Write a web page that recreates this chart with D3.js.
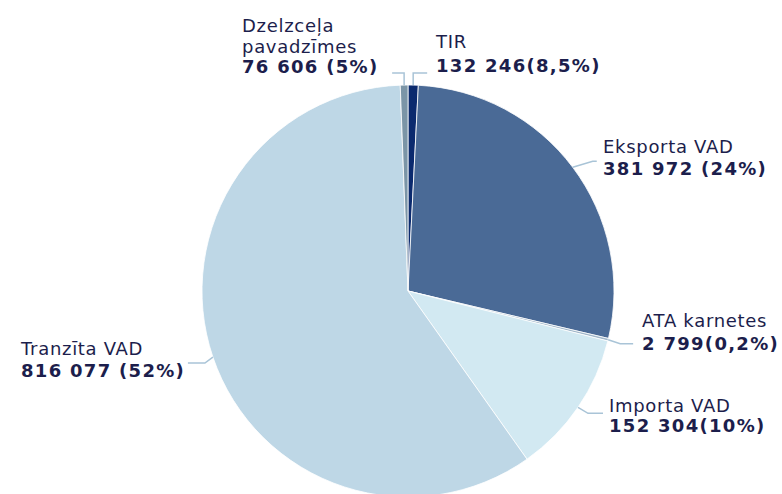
<!DOCTYPE html>
<html>
<head>
<meta charset="utf-8">
<script src="https://cdn.jsdelivr.net/npm/d3@7"></script>
<style>
  body { margin: 0; background: #fff; }
  svg { display: block; }
  .lbl { font-family: "DejaVu Sans", Verdana, sans-serif; font-size: 18px; fill: #1c1e4c; letter-spacing: 0.7px; }
  .lbl .val { font-weight: bold; letter-spacing: 1.3px; }
  .leader { fill: none; stroke: #a9c4d7; stroke-width: 1.5; }
</style>
</head>
<body>
<div id="chart"></div>
<script>
// slice order, clockwise from 12 o'clock
const categories = ["TIR", "Eksporta VAD", "ATA karnetes", "Importa VAD", "Tranzīta VAD", "Dzelzceļa pavadzīmes"]
// share of the circle each slice takes in the picture (%)
const shares = [0.8, 27.9, 0.2, 11.3, 59.2, 0.6]
// value text printed in each label
const valueLabels = ["132 246(8,5%)", "381 972 (24%)", "2 799(0,2%)", "152 304(10%)", "816 077 (52%)", "76 606 (5%)"]
// name text, split over lines
const nameLines = [["TIR"], ["Eksporta VAD"], ["ATA karnetes"], ["Importa VAD"], ["Tranzīta VAD"], ["Dzelzceļa", "pavadzīmes"]]
const colors = ["#0b2a6e", "#4a6a96", "#9fb6c9", "#d2e9f2", "#bed7e6", "#7b95a7"]

const width = 782
const height = 494
const cx = 408
const cy = 291
const radius = 206

// label layout: text anchor point, line spacing, elbow and end of the leader
const layout = [
  { x: 436, y: 48, dy: 24, elbow: [0, -12], end: [14, -12] },
  { x: 603, y: 153, dy: 22, elbow: [20, -6], end: [24, -6] },
  { x: 642, y: 327, dy: 23, elbow: [12, 4], end: [25, 4] },
  { x: 609, y: 412, dy: 20, elbow: [10, 6], end: [25, 6] },
  { x: 21, y: 355, dy: 22, elbow: [-8, 6], end: [-25, 6] },
  { x: 242, y: 32, dy: 20.5, elbow: [0, -12], end: [-12, -12] }
]

const data = categories.map((c, i) => ({ name: c, share: shares[i], i }))

const pie = d3.pie()
  .value(d => d.share)
  .sort(null)

const arc = d3.arc()
  .innerRadius(0)
  .outerRadius(radius)

const svg = d3.select("#chart").append("svg")
  .attr("width", width)
  .attr("height", height)

const g = svg.append("g")
  .attr("transform", "translate(" + cx + "," + cy + ")")

const arcs = pie(data)

g.selectAll("path.slice")
  .data(arcs)
  .join("path")
  .attr("class", "slice")
  .attr("d", arc)
  .attr("fill", d => colors[d.data.i])
  .attr("stroke", "#fff")
  .attr("stroke-width", 0.8)

// leader lines from the rim at each slice's mid angle
g.selectAll("path.leader")
  .data(arcs)
  .join("path")
  .attr("class", "leader")
  .attr("d", d => {
    const mid = (d.startAngle + d.endAngle) / 2
    const p = d3.pointRadial(mid, radius)
    const l = layout[d.data.i]
    return d3.line()([p, [p[0] + l.elbow[0], p[1] + l.elbow[1]], [p[0] + l.end[0], p[1] + l.end[1]]])
  })

const labels = svg.selectAll("text.lbl")
  .data(data)
  .join("text")
  .attr("class", "lbl")

labels.each(function(d) {
  const t = d3.select(this)
  const l = layout[d.i]
  const lines = nameLines[d.i]
  lines.forEach((s, k) => {
    t.append("tspan").attr("x", l.x).attr("y", l.y + k * l.dy).text(s)
  })
  t.append("tspan")
    .attr("class", "val")
    .attr("x", l.x)
    .attr("y", l.y + lines.length * l.dy)
    .text(valueLabels[d.i])
})
</script>
</body>
</html>
